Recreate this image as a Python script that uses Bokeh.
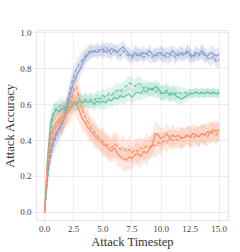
from bokeh.plotting import figure
from bokeh.models import Range1d, FixedTicker, ColumnDataSource
from bokeh.embed import file_html
from bokeh.resources import INLINE

# Data: attack timestep 0..15 in steps of 0.25 (61 samples)
timesteps = [i * 0.25 for i in range(61)]

blue_solid = [0.0, 0.22, 0.33, 0.40, 0.44,
              0.47, 0.50, 0.53, 0.60, 0.67, 0.72, 0.76, 0.79,
              0.83, 0.86, 0.88, 0.89, 0.90, 0.89, 0.90, 0.91,
              0.89, 0.90, 0.91, 0.90, 0.89, 0.91, 0.92, 0.90,
              0.88, 0.87, 0.89, 0.88, 0.87, 0.89, 0.88, 0.90,
              0.88, 0.87, 0.89, 0.88, 0.87, 0.89, 0.88, 0.90,
              0.88, 0.87, 0.89, 0.88, 0.90, 0.88, 0.87, 0.89,
              0.88, 0.90, 0.88, 0.87, 0.89, 0.88, 0.87, 0.88]
blue_dashed = [0.0, 0.20, 0.30, 0.38, 0.42,
               0.46, 0.49, 0.55, 0.63, 0.70, 0.76, 0.80, 0.83,
               0.85, 0.87, 0.89, 0.90, 0.89, 0.91, 0.90, 0.89,
               0.92, 0.90, 0.88, 0.91, 0.89, 0.87, 0.90, 0.88,
               0.87, 0.86, 0.88, 0.87, 0.89, 0.86, 0.88, 0.87,
               0.86, 0.88, 0.87, 0.89, 0.88, 0.86, 0.87, 0.88,
               0.86, 0.89, 0.88, 0.87, 0.89, 0.87, 0.86, 0.88,
               0.87, 0.89, 0.87, 0.86, 0.85, 0.87, 0.84, 0.85]
blue_spread = [0.0, 0.04, 0.05, 0.06, 0.06,
               0.06, 0.06, 0.06, 0.06, 0.06, 0.06, 0.05, 0.05,
               0.05, 0.04, 0.04, 0.04, 0.03, 0.04, 0.03, 0.04,
               0.03, 0.04, 0.04, 0.03, 0.04, 0.03, 0.04, 0.03,
               0.04, 0.03, 0.04, 0.04, 0.03, 0.04, 0.03, 0.04,
               0.03, 0.04, 0.03, 0.04, 0.04, 0.03, 0.04, 0.03,
               0.04, 0.03, 0.04, 0.03, 0.04, 0.04, 0.03, 0.04,
               0.03, 0.04, 0.04, 0.03, 0.04, 0.04, 0.04, 0.04]

green_solid = [0.0, 0.30, 0.50, 0.55, 0.57,
               0.56, 0.58, 0.57, 0.59, 0.58, 0.60, 0.61, 0.62,
               0.61, 0.62, 0.61, 0.62, 0.60, 0.62, 0.61, 0.62,
               0.61, 0.63, 0.62, 0.64, 0.63, 0.65, 0.64, 0.65,
               0.66, 0.64, 0.66, 0.67, 0.66, 0.68, 0.67, 0.69,
               0.68, 0.70, 0.69, 0.67, 0.66, 0.67, 0.65, 0.66,
               0.65, 0.64, 0.63, 0.64, 0.65, 0.66, 0.66, 0.67,
               0.66, 0.67, 0.66, 0.67, 0.66, 0.67, 0.66, 0.67]
green_dashed = [0.0, 0.18, 0.42, 0.55, 0.58,
                0.59, 0.60, 0.58, 0.61, 0.60, 0.61, 0.60, 0.62,
                0.61, 0.63, 0.62, 0.63, 0.62, 0.64, 0.63, 0.65,
                0.64, 0.66, 0.65, 0.67, 0.68, 0.67, 0.69, 0.70,
                0.72, 0.71, 0.70, 0.72, 0.71, 0.69, 0.70, 0.68,
                0.69, 0.67, 0.68, 0.66, 0.67, 0.68, 0.66, 0.67,
                0.66, 0.67, 0.66, 0.67, 0.66, 0.665, 0.66, 0.67,
                0.66, 0.665, 0.66, 0.67, 0.66, 0.665, 0.66, 0.66]
green_spread = [0.0, 0.05, 0.06, 0.05, 0.04,
                0.04, 0.04, 0.04, 0.04, 0.04, 0.04, 0.04, 0.04,
                0.04, 0.04, 0.04, 0.04, 0.04, 0.04, 0.04, 0.04,
                0.04, 0.04, 0.04, 0.04, 0.04, 0.04, 0.04, 0.04,
                0.04, 0.04, 0.04, 0.04, 0.04, 0.04, 0.04, 0.04,
                0.04, 0.04, 0.04, 0.04, 0.04, 0.04, 0.04, 0.04,
                0.04, 0.035, 0.03, 0.03, 0.025, 0.025, 0.025, 0.025,
                0.025, 0.025, 0.025, 0.025, 0.025, 0.025, 0.025, 0.025]

orange_solid = [0.0, 0.30, 0.42, 0.47, 0.50,
                0.52, 0.50, 0.54, 0.56, 0.58, 0.62, 0.60, 0.56,
                0.52, 0.50, 0.47, 0.45, 0.43, 0.41, 0.40, 0.38,
                0.37, 0.35, 0.34, 0.36, 0.33, 0.31, 0.30, 0.29,
                0.31, 0.30, 0.32, 0.33, 0.31, 0.34, 0.33, 0.35,
                0.37, 0.44, 0.43, 0.41, 0.42, 0.44, 0.41, 0.43,
                0.42, 0.43, 0.41, 0.42, 0.43, 0.42, 0.44, 0.43,
                0.42, 0.44, 0.43, 0.45, 0.44, 0.46, 0.45, 0.46]
orange_dashed = [0.0, 0.25, 0.38, 0.44, 0.48,
                 0.50, 0.53, 0.55, 0.58, 0.62, 0.68, 0.70, 0.63,
                 0.57, 0.53, 0.50, 0.47, 0.45, 0.43, 0.41, 0.40,
                 0.38, 0.37, 0.36, 0.38, 0.37, 0.35, 0.36, 0.34,
                 0.35, 0.33, 0.35, 0.34, 0.36, 0.35, 0.37, 0.36,
                 0.38, 0.37, 0.39, 0.38, 0.40, 0.39, 0.41, 0.40,
                 0.41, 0.40, 0.42, 0.41, 0.43, 0.42, 0.41, 0.43,
                 0.42, 0.44, 0.43, 0.42, 0.45, 0.44, 0.43, 0.45]
orange_spread = [0.0, 0.05, 0.07, 0.07, 0.07,
                 0.07, 0.08, 0.07, 0.08, 0.07, 0.07, 0.08, 0.07,
                 0.07, 0.06, 0.07, 0.06, 0.07, 0.06, 0.06, 0.07,
                 0.06, 0.07, 0.06, 0.07, 0.07, 0.06, 0.07, 0.06,
                 0.07, 0.06, 0.06, 0.07, 0.06, 0.06, 0.07, 0.06,
                 0.06, 0.07, 0.06, 0.06, 0.05, 0.06, 0.05, 0.06,
                 0.05, 0.05, 0.06, 0.05, 0.05, 0.06, 0.05, 0.05,
                 0.06, 0.05, 0.06, 0.05, 0.06, 0.05, 0.06, 0.05]

x_ticks = [0.0, 2.5, 5.0, 7.5, 10.0, 12.5, 15.0]
y_ticks = [0.0, 0.2, 0.4, 0.6, 0.8, 1.0]
x_label = "Attack Timestep"
y_label = "Attack Accuracy"

BLUE, GREEN, ORANGE = "#8da0cb", "#66c2a5", "#fc8d62"
FONT = "Liberation Serif"

p = figure(output_backend="svg", toolbar_location=None,
           width=240, height=252,
           x_range=Range1d(-0.7, 15.8), y_range=Range1d(-0.045, 1.012),
           min_border_top=30, min_border_right=12, min_border_left=32, min_border_bottom=32)

series = [
    (blue_solid, blue_spread, BLUE, "solid"),
    (blue_dashed, blue_spread, BLUE, "4 2"),
    (green_solid, green_spread, GREEN, "solid"),
    (green_dashed, green_spread, GREEN, "4 2"),
    (orange_solid, orange_spread, ORANGE, "solid"),
    (orange_dashed, orange_spread, ORANGE, "4 2"),
]
for ys, sp, col, dash in series:
    src = ColumnDataSource(dict(
        x=timesteps, y=ys,
        lo=[a - b for a, b in zip(ys, sp)],
        hi=[a + b for a, b in zip(ys, sp)]))
    p.varea(x="x", y1="lo", y2="hi", source=src, fill_color=col, fill_alpha=0.2)
for ys, sp, col, dash in series:
    p.line(x=timesteps, y=ys, line_color=col, line_width=1.2, line_dash=dash)

p.outline_line_color = "#e6e6e6"
p.xgrid.grid_line_color = "#ececec"
p.ygrid.grid_line_color = "#ececec"
p.xaxis.ticker = FixedTicker(ticks=x_ticks)
p.yaxis.ticker = FixedTicker(ticks=y_ticks)
p.xaxis.major_label_overrides = {t: f"{t:.1f}" for t in x_ticks}
p.yaxis.major_label_overrides = {t: f"{t:.1f}" for t in y_ticks}
for ax in (p.xaxis, p.yaxis):
    ax.axis_line_color = "#e6e6e6"
    ax.major_tick_line_color = "#e6e6e6"
    ax.major_tick_out = 3
    ax.major_tick_in = 0
    ax.minor_tick_line_color = None
    ax.major_label_text_font = FONT
    ax.major_label_text_font_size = "9px"
    ax.major_label_text_color = "#444444"
    ax.major_label_standoff = 2
    ax.axis_label_text_font = FONT
    ax.axis_label_text_font_size = "12.5px"
    ax.axis_label_text_font_style = "normal"
    ax.axis_label_text_color = "#333333"
    ax.axis_label_standoff = 0
p.xaxis.axis_label = x_label
p.yaxis.axis_label = y_label

open("out.html", "w").write(file_html(p, INLINE))
